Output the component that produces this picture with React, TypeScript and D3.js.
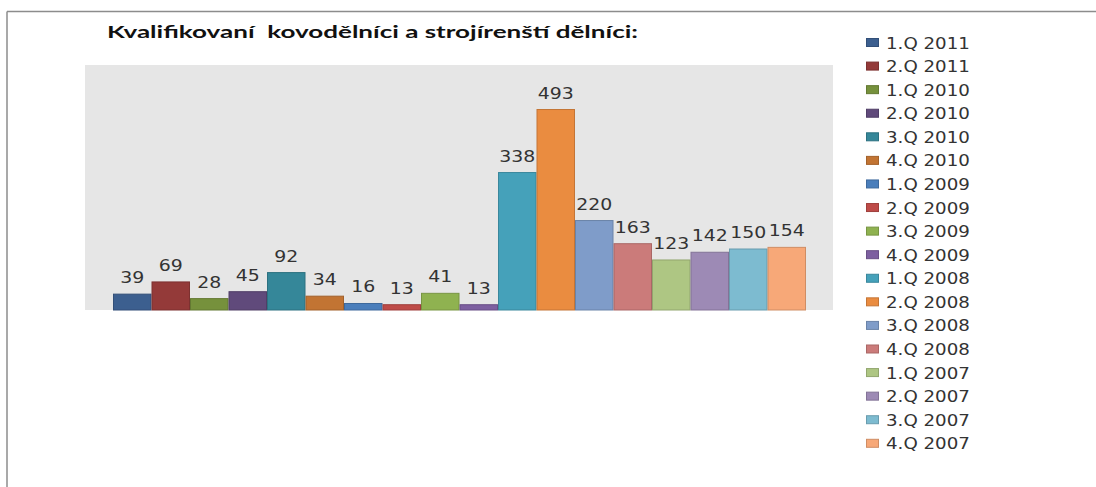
import React from "react";
import * as d3 from "d3";

const categories = [
  "1.Q 2011", "2.Q 2011", "1.Q 2010", "2.Q 2010", "3.Q 2010", "4.Q 2010",
  "1.Q 2009", "2.Q 2009", "3.Q 2009", "4.Q 2009", "1.Q 2008", "2.Q 2008",
  "3.Q 2008", "4.Q 2008", "1.Q 2007", "2.Q 2007", "3.Q 2007", "4.Q 2007",
];
const values = [39, 69, 28, 45, 92, 34, 16, 13, 41, 13, 338, 493, 220, 163, 123, 142, 150, 154];
const colors = [
  "#3c5f8f", "#943a39", "#76913c", "#604a7b", "#358799", "#c27433",
  "#4a7ebb", "#be4b48", "#8fb250", "#7d5fa0", "#45a1ba", "#ea8c40",
  "#7f9cc9", "#cb7b7a", "#aec683", "#9d8ab5", "#7dbbd0", "#f7a878",
];
const title = "Kvalifikovaní  kovodělníci a strojírenští dělníci:";
const yMax = 600;

export default function App() {
  const W = 1096, H = 487;
  const plot = { left: 85, right: 833, top: 65, bottom: 310 };
  const x = d3.scaleBand<string>().domain(categories).range([113, 806]).padding(0);
  const y = d3.scaleLinear().domain([0, yMax]).range([plot.bottom, plot.top + 1]);
  const legendY = d3.scalePoint<string>().domain(categories).range([42.5, 443.3]);
  const border = (c: string) => d3.color(c)!.darker(0.5).formatHex();

  return (
    <svg width={W} height={H} style={{ position: "absolute", left: 0, top: 0 }}>
      <rect x={0} y={0} width={W} height={H} fill="#fff" />
      <line x1={7} y1={11.5} x2={W} y2={11.5} stroke="#8c8c8c" strokeWidth={1.5} />
      <line x1={7} y1={11.5} x2={7} y2={H} stroke="#8c8c8c" strokeWidth={1.5} />
      <text x={107} y={38} fontFamily="Lato, 'Noto Sans', sans-serif" fontWeight="bold" fontSize={17}
        fill="#111" textLength={531} lengthAdjust="spacingAndGlyphs" style={{ whiteSpace: "pre" }}>{title}</text>
      <rect x={plot.left} y={plot.top} width={plot.right - plot.left} height={plot.bottom - plot.top} fill="#e6e6e6" />
      {categories.map((c, i) => {
        const x0 = x(c)!;
        const bw = x.bandwidth();
        const yt = y(values[i]);
        const cx = x0 + bw / 2;
        return (
          <g key={c}>
            <rect x={x0 + 0.5} y={yt} width={bw - 1} height={plot.bottom - yt} fill={colors[i]}
              stroke={border(colors[i])} strokeWidth={1} />
            <text transform={`translate(${cx},${yt - 11}) scale(1.26,1)`} textAnchor="middle"
              fontFamily="'DejaVu Sans', sans-serif" fontSize={15} fill="#333">{values[i]}</text>
          </g>
        );
      })}
      {categories.map((c, i) => {
        const cy = legendY(c)!;
        return (
          <g key={"l" + c}>
            <rect x={866.5} y={cy - 4} width={12} height={8} fill={colors[i]} stroke={border(colors[i])} strokeWidth={1} />
            <text transform={`translate(886,${cy + 6}) scale(1.14,1)`} fontFamily="'DejaVu Sans', sans-serif"
              fontSize={16} fill="#333">{c}</text>
          </g>
        );
      })}
    </svg>
  );
}
